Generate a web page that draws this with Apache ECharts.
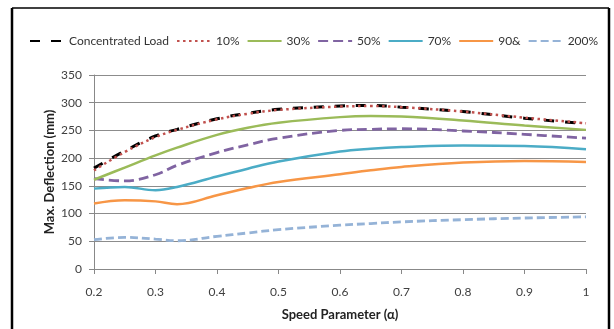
<!DOCTYPE html>
<html>
<head>
<meta charset="utf-8">
<script src="https://cdn.jsdelivr.net/npm/echarts@6/dist/echarts.min.js"></script>
<style>
html,body{margin:0;padding:0;background:#fff;}
#chart{width:614px;height:329px;}
</style>
</head>
<body>
<div id="chart"></div>
<script>
// Speed parameter (alpha) sample positions
var alpha = [0.2, 0.25, 0.3, 0.335, 0.4, 0.45, 0.5, 0.6, 0.65, 0.7, 0.8, 0.9, 1.0];
var seriesNames = ['Concentrated Load', '10%', '30%', '50%', '70%', '90&', '200%'];
var concentrated = [182, 213, 240, 252, 271, 281, 288, 294, 295, 292, 284, 272, 262];
var p10  = [178, 211, 238, 251, 270, 280, 287, 293, 294, 292, 284, 273, 263];
var p30  = [161, 183, 205, 219, 242, 255, 264, 274, 276, 275, 268, 259, 251];
var p50  = [163, 159, 170, 187, 210, 224, 236, 250, 252, 253, 249, 243, 236];
var p70  = [145, 148, 142, 148, 167, 181, 194, 212, 217, 220, 223, 222, 216];
var p90  = [118, 124, 122, 117, 133, 146, 157, 171, 178, 184, 192, 195, 193];
var p200 = [53, 57, 54, 51, 59, 65, 71, 79, 82, 85, 89, 92, 94];
var xTicks = ['0.2', '0.3', '0.4', '0.5', '0.6', '0.7', '0.8', '0.9', '1'];
var yTicks = ['0', '50', '100', '150', '200', '250', '300', '350'];

function pairs(vals) { return alpha.map(function (a, i) { return [a, vals[i]]; }); }

var styles = [
  {color: '#000000', width: 3, type: [10, 11]},
  {color: '#C0504D', width: 2.5, type: [2.5, 3.5]},
  {color: '#9BBB59', width: 2.5, type: 'solid'},
  {color: '#8064A2', width: 2.8, type: [10, 5]},
  {color: '#4BACC6', width: 2.5, type: 'solid'},
  {color: '#F79646', width: 2.5, type: 'solid'},
  {color: '#95B3D7', width: 2.8, type: [8, 4]}
];
var allData = [concentrated, p10, p30, p50, p70, p90, p200];

var series = allData.map(function (vals, i) {
  return {
    name: seriesNames[i],
    type: 'line',
    data: pairs(vals),
    smooth: 0.4,
    symbol: 'none',
    z: 10 - i,
    lineStyle: {color: styles[i].color, width: styles[i].width, type: styles[i].type},
    itemStyle: {color: styles[i].color}
  };
});
series[0].z = 9; series[1].z = 10;

var chart = echarts.init(document.getElementById('chart'), null, {renderer: 'canvas'});
var font = 'Lato, "Open Sans", sans-serif';
chart.setOption({
  animation: false,
  backgroundColor: '#fff',
  textStyle: {fontFamily: font},
  legend: {
    data: seriesNames,
    left: 24, top: 30,
    itemWidth: 34, itemHeight: 10, itemGap: 7,
    itemStyle: {opacity: 0},
    textStyle: {fontSize: 12, color: '#333', fontFamily: font}
  },
  grid: {left: 94, right: 28, top: 75, bottom: 60, containLabel: false},
  xAxis: {
    type: 'value', min: 0.2, max: 1, interval: 0.1,
    name: 'Speed Parameter (α)', nameLocation: 'middle', nameGap: 39,
    nameMoveOverlap: false,
    nameTextStyle: {fontSize: 13, fontWeight: 'bold', color: '#222', fontFamily: font},
    axisLine: {show: true, lineStyle: {color: '#888', width: 1}},
    axisTick: {show: true, length: 5, lineStyle: {color: '#888'}},
    axisLabel: {fontSize: 12, color: '#404040', margin: 17, fontFamily: font,
      formatter: function (v) { return xTicks[Math.round((v - 0.2) / 0.1)]; }},
    splitLine: {show: false}
  },
  yAxis: {
    type: 'value', min: 0, max: 350, interval: 50,
    name: 'Max. Deflection (mm)', nameLocation: 'middle', nameGap: 38,
    nameMoveOverlap: false,
    nameTextStyle: {fontSize: 13, fontWeight: 'bold', color: '#222', fontFamily: font},
    axisLine: {show: true, lineStyle: {color: '#888', width: 1}},
    axisTick: {show: true, length: 5, lineStyle: {color: '#888'}},
    axisLabel: {fontSize: 12, color: '#404040', margin: 12, fontFamily: font,
      formatter: function (v) { return yTicks[Math.round(v / 50)]; }},
    splitLine: {show: true, lineStyle: {color: '#8c8c8c', width: 1}}
  },
  graphic: [
    {type: 'line', shape: {x1: 12, y1: 8, x2: 609, y2: 8}, style: {stroke: '#000', lineWidth: 1.5}, silent: true},
    {type: 'line', shape: {x1: 12, y1: 8, x2: 12, y2: 329}, style: {stroke: '#000', lineWidth: 2.5}, silent: true},
    {type: 'line', shape: {x1: 609, y1: 8, x2: 609, y2: 329}, style: {stroke: '#000', lineWidth: 2.5}, silent: true}
  ],
  series: series
});
</script>
</body>
</html>
